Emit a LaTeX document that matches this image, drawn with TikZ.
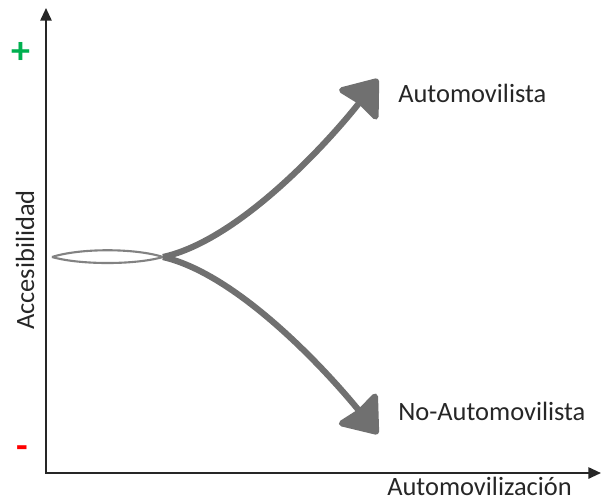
\documentclass[tikz,border=0pt]{standalone}
\usepackage{fontspec}
\setmainfont{Carlito}
\usepackage{xcolor}
\usetikzlibrary{arrows.meta}

\definecolor{axisgray}{RGB}{38,38,38}
\definecolor{branchgray}{RGB}{112,112,112}
\definecolor{lensgray}{RGB}{130,130,130}
\definecolor{plusgreen}{RGB}{0,176,80}
\definecolor{minusred}{RGB}{255,0,0}

\begin{document}
\begin{tikzpicture}[x=0.025cm, y=-0.025cm]
        \tikzset{axis/.style={line width=1.4pt, draw=axisgray, line join=miter},
            lens/.style={line width=1.5pt, draw=lensgray},
            branch/.style={line width=4.4pt, draw=branchgray,
                -{Stealth[length=26pt, width=39pt, inset=2pt, round]}},
            lbl/.style={inner sep=0pt, text=axisgray, font=\fontsize{18.8}{22}\selectfont}}

        \useasboundingbox (0, 0) rectangle (602, 501);

        \coordinate (ytop) at (46, 8);
        \coordinate (O) at (46, 473);
        \coordinate (xend) at (601, 473);
        \coordinate (start) at (52, 257);
        \coordinate (split) at (163, 257);
        \coordinate (tipA) at (378, 79);
        \coordinate (tipB) at (378, 434);

        \draw[axis, {Triangle[length=9pt, width=8pt]}-{Triangle[length=9pt, width=8pt]}] (ytop) -- (O) -- (xend);

        \draw[lens] (start) .. controls (80, 248) and (135, 248) .. (split);
        \draw[lens] (start) .. controls (80, 265) and (135, 265) .. (split);

        \draw[branch] (split) .. controls (240, 240) and (330, 140) .. (tipA);
        \draw[branch] (split) .. controls (240, 275) and (330, 375) .. (tipB);

        \node[lbl, anchor=base west] (auto) at (398, 102) {Automovilista};
        \node[lbl, anchor=base west] (noauto) at (398, 420) {No-Automovilista};
        \node[lbl, anchor=base west] (xlabel) at (387, 495) {Automovilización};
        \node[lbl, anchor=base, rotate=90] (ylabel) at (34, 260) {Accesibilidad};
        \node[lbl, text=plusgreen, font=\fontsize{27}{30}\bfseries] (plus) at (21, 53) {+};
        \node[lbl, text=minusred, font=\fontsize{27}{30}\bfseries] (minus) at (22, 452) {-};

    \end{tikzpicture}
\end{document}
